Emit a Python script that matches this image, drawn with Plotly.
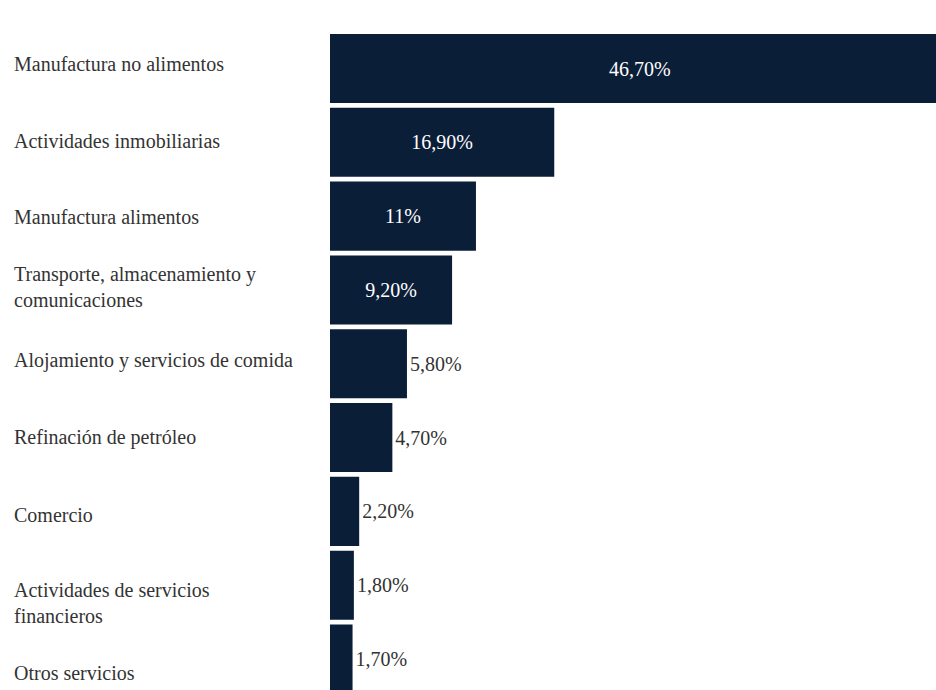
import plotly.graph_objects as go

# Sector shares (%)
sectors = [
    "Manufactura no alimentos",
    "Actividades inmobiliarias",
    "Manufactura alimentos",
    "Transporte, almacenamiento y<br>comunicaciones",
    "Alojamiento y servicios de comida",
    "Refinación de petróleo",
    "Comercio",
    "Actividades de servicios<br>financieros",
    "Otros servicios",
]
shares = [46.7, 16.9, 11.0, 9.2, 5.8, 4.7, 2.2, 1.8, 1.7]
share_labels = ["46,70%", "16,90%", "11%", "9,20%", "5,80%", "4,70%", "2,20%", "1,80%", "1,70%"]

# Style settings
BAR_COLOR = "#0b1e38"
FONT = "Liberation Serif, Times New Roman, serif"
inside_threshold = 9.0
label_yshift = [4.5, 1.5, -0.5, 2.5, 3, 0.5, -4, -17.5, -14]

ids = list(range(len(sectors)))
positions = ["inside" if v >= inside_threshold else "outside" for v in shares]

fig = go.Figure(
    go.Bar(
        x=shares,
        y=ids,
        orientation="h",
        marker=dict(color=BAR_COLOR, line=dict(width=0)),
        text=share_labels,
        textposition=positions,
        insidetextanchor="middle",
        textangle=0,
        insidetextfont=dict(family=FONT, size=20, color="white"),
        outsidetextfont=dict(family=FONT, size=20, color="#333333"),
        cliponaxis=True,
        hoverinfo="skip",
    )
)

# Left-aligned category names
for i, (name, dy) in enumerate(zip(sectors, label_yshift)):
    fig.add_annotation(
        x=-318 / 606, xref="paper", xanchor="left",
        y=i, yref="y", yanchor="middle",
        yshift=dy,
        text=name, showarrow=False, align="left",
        font=dict(family=FONT, size=20, color="#333333"),
    )

fig.update_layout(
    width=936, height=690,
    margin=dict(l=330, r=0, t=0, b=0),
    plot_bgcolor="white", paper_bgcolor="white",
    bargap=0.065,
    showlegend=False,
    uniformtext=dict(minsize=20, mode="show"),
)
fig.update_xaxes(range=[0, 45.67], visible=False, fixedrange=True)
fig.update_yaxes(range=[8.42, -0.928], visible=False, fixedrange=True)

fig.write_html("out.html")
